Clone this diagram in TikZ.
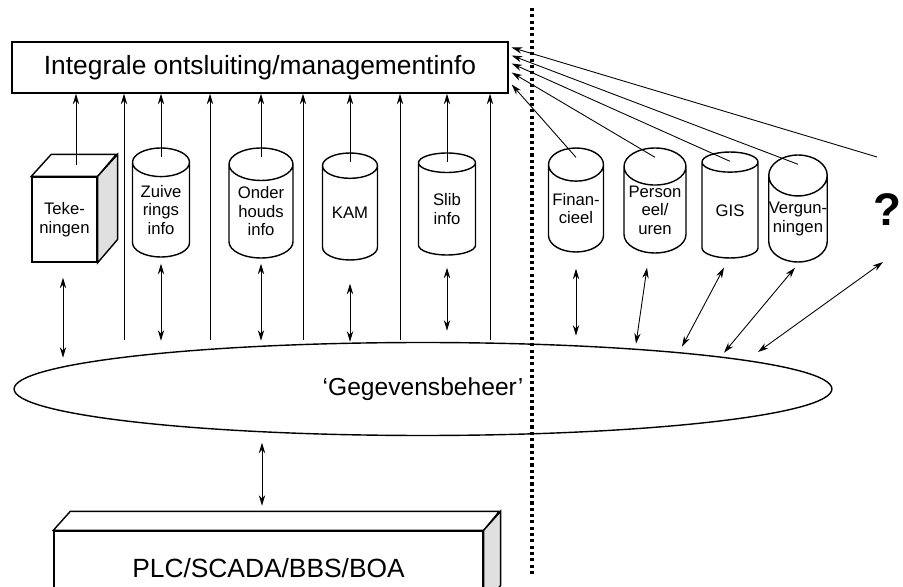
\documentclass[tikz,border=0pt]{standalone}
\usepackage{fontspec}
\setmainfont{Liberation Sans}
\usetikzlibrary{shapes.geometric, arrows.meta}

\begin{document}
\begin{tikzpicture}[x=0.02cm, y=-0.02cm, >={Stealth[length=6pt,width=3.6pt]},
  box/.style={draw, line width=0.8pt, fill=white, inner sep=0pt},
  db/.style={cylinder, shape border rotate=90, aspect=0.7, anchor=shape center, draw, line width=0.8pt, fill=white, inner sep=0pt, align=center, font=\fontsize{9.5}{10.5}\selectfont},
  link/.style={line width=0.5pt}]
\useasboundingbox (0,0) rectangle (903,587);
\node[box, minimum width=9.92cm, minimum height=1.02cm, font=\fontsize{15}{18}\selectfont] (info) at (260,67.5) {Integrale ontsluiting/managementinfo};
\node[box, minimum width=1.3cm, minimum height=1.7cm, align=center, font=\fontsize{9.5}{10.5}\selectfont] (tek) at (64.5,219.5) {Teke-\\ningen};
\draw[line width=0.8pt, fill=white] (tek.north west) -- ++(20,-22) -- ++(65,0) -- (tek.north east) -- cycle;
\draw[line width=0.8pt, fill=black!12] (tek.north east) -- ++(20,-22) -- ++(0,85) -- (tek.south east) -- cycle;
\node[db, minimum width=1.14cm, minimum height=2.18cm] (zuiv) at (161,202.5) {Zuive\\rings\\info};
\node[db, minimum width=1.28cm, minimum height=2.2cm] (onder) at (261,203) {Onder\\houds\\info};
\node[db, minimum width=1.1cm, minimum height=2.14cm] (kam) at (350,206.5) {KAM};
\node[db, minimum width=1.14cm, minimum height=2.04cm] (slib) at (447,204) {Slib\\info};
\node[db, minimum width=1.1cm, minimum height=2.08cm] (fin) at (576,200) {Finan-\\cieel};
\node[db, minimum width=1.24cm, minimum height=2.1cm] (pers) at (655,200.5) {Person\\eel/\\uren};
\node[db, minimum width=1.12cm, minimum height=2.12cm] (gis) at (730,205) {GIS};
\node[db, minimum width=1.14cm, minimum height=2.14cm] (verg) at (798,208.5) {Vergun-\\ningen};
\node[font=\fontsize{26}{30}\selectfont\bfseries] (ques) at (887,210) {?};
\node[ellipse, draw, line width=0.8pt, minimum width=16.36cm, minimum height=1.86cm, inner sep=0pt, font=\fontsize{14}{16}\selectfont] (gb) at (423,389) {‘Gegevensbeheer’};
\node[box, minimum width=8.58cm, minimum height=1.48cm, font=\fontsize{15}{18}\selectfont] (plc) at (268.5,568) {PLC/SCADA/BBS/BOA};
\draw[line width=0.8pt, fill=white] (plc.north west) -- ++(17,-19) -- ++(429,0) -- (plc.north east) -- cycle;
\draw[line width=0.8pt, fill=black!12] (plc.north east) -- ++(17,-19) -- ++(0,74) -- (plc.south east) -- cycle;
\coordinate (tektop) at ([shift={(11.5,-11)}]tek.north);
\draw[link,->] (tektop) -- (tektop |- info.south);
\foreach \n in {zuiv,onder,kam,slib}
  \draw[link,->] ([yshift=-0.2cm]\n.north) -- (\n.north |- info.south);
\foreach \x in {124,210,303,400,490} {
  \coordinate (lo) at (\x,340);
  \draw[link,->] (lo) -- (lo |- info.south);
}
\coordinate (qtop) at (877,157);
\draw[link,->] (qtop) -- ([shift={(3,-20)}]info.east);
\foreach \n/\dy in {verg/-12, gis/-4, pers/5, fin/17}
  \draw[link,->] ([yshift=-0.2cm]\n.north) -- ([shift={(3,\dy)}]info.east);
\draw[link,<->] ([shift={(-1.5,15)}]tek.south) -- ++(0,80);
\draw[link,<->] ([yshift=-0.12cm]zuiv.south) -- ++(0,77);
\draw[link,<->] ([yshift=-0.1cm]onder.south) -- ++(0,77);
\draw[link,<->] ([yshift=-0.46cm]kam.south) -- (kam.south |- gb.north);
\draw[link,<->] ([yshift=-0.24cm]slib.south) -- ++(0,63);
\draw[link,<->] ([yshift=-0.32cm]fin.south) -- ++(0,67);
\draw[link,<->] ([shift={(-8,14)}]pers.south) -- ++(-11,76);
\draw[link,<->] ([shift={(-6,9)}]gis.south) -- ++(-42,79);
\draw[link,<->] ([shift={(-3,5)}]verg.south) -- ++(-71,85);
\draw[link,<->] ([shift={(-4,52)}]ques.center) -- ++(-125,90);
\draw[link,<->] ([shift={(-161,6.5)}]gb.south) -- ++(0,63);
\draw[line width=2pt, dash pattern=on 1.8pt off 1.8pt] (532,8) -- (532,575);
\end{tikzpicture}
\end{document}
